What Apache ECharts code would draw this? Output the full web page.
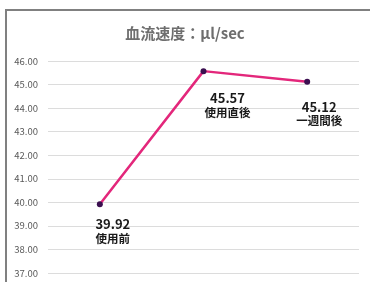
<!DOCTYPE html>
<html>
<head>
<meta charset="UTF-8">
<title>血流速度</title>
<style>
  html, body { margin: 0; padding: 0; background: #fff; overflow: hidden; }
  #frame { position: absolute; left: 5px; top: 9px; width: 380px; height: 300px;
           border-left: 2px solid #808080; border-top: 2px solid #808080; }
  #chartDom { position: absolute; left: 0; top: 0; width: 370px; height: 282px; }
</style>
</head>
<body>
<script src="https://cdn.jsdelivr.net/npm/echarts@6/dist/echarts.min.js"></script>

<div id="frame"></div>
<div id="chartDom"></div>

<script type="text/javascript">
// データ
var categories = ['使用前', '使用直後', '一週間後'];
var speeds = [39.92, 45.57, 45.12];
var yTicks = [37, 46, 1]; // min, max, interval

var myChart = echarts.init(document.getElementById('chartDom'));

// ラベルの位置 (点からのずれ)
var labelOffsets = [[13, 5], [24, 12], [12, 10]];

var seriesData = speeds.map(function (v, i) {
    return {
        value: v,
        label: { offset: labelOffsets[i] }
    };
});

var option = {
    animation: false,
    title: {
        text: '血流速度：μl/sec',
        left: 'center',
        top: 21,
        textStyle: {
            fontFamily: 'Noto Sans CJK JP',
            fontSize: 15,
            fontWeight: 'bold',
            color: '#6e6e6e'
        }
    },
    grid: {
        left: 48,
        right: 11,
        top: 61,
        bottom: 9
    },
    xAxis: {
        type: 'category',
        data: categories,
        boundaryGap: true,
        axisLine: { show: false },
        axisTick: { show: false },
        axisLabel: { show: false }
    },
    yAxis: {
        type: 'value',
        min: yTicks[0],
        max: yTicks[1],
        interval: yTicks[2],
        axisLine: { show: false },
        axisTick: { show: false },
        axisLabel: {
            margin: 10,
            fontFamily: 'Noto Sans CJK JP',
            fontSize: 9.5,
            color: '#595959',
            formatter: function (v) { return v.toFixed(2); }
        },
        splitLine: { lineStyle: { color: '#dcdcdc', width: 1 } }
    },
    series: [{
        type: 'line',
        data: seriesData,
        symbol: 'circle',
        symbolSize: 6,
        lineStyle: { color: '#e3277b', width: 2.5 },
        itemStyle: { color: '#3b0f50' },
        label: {
            show: true,
            position: 'bottom',
            align: 'center',
            lineHeight: 14,
            formatter: function (p) {
                return '{v|' + p.value.toFixed(2) + '}\n{c|' + p.name + '}';
            },
            rich: {
                v: { fontFamily: 'Noto Sans CJK JP', fontSize: 13, fontWeight: 'bold', color: '#1a1a1a', lineHeight: 14, align: 'center' },
                c: { fontFamily: 'Noto Sans CJK JP', fontSize: 11.5, fontWeight: 'bold', color: '#1a1a1a', lineHeight: 14, align: 'center' }
            }
        }
    }]
};

myChart.setOption(option);
</script>
</body>
</html>
